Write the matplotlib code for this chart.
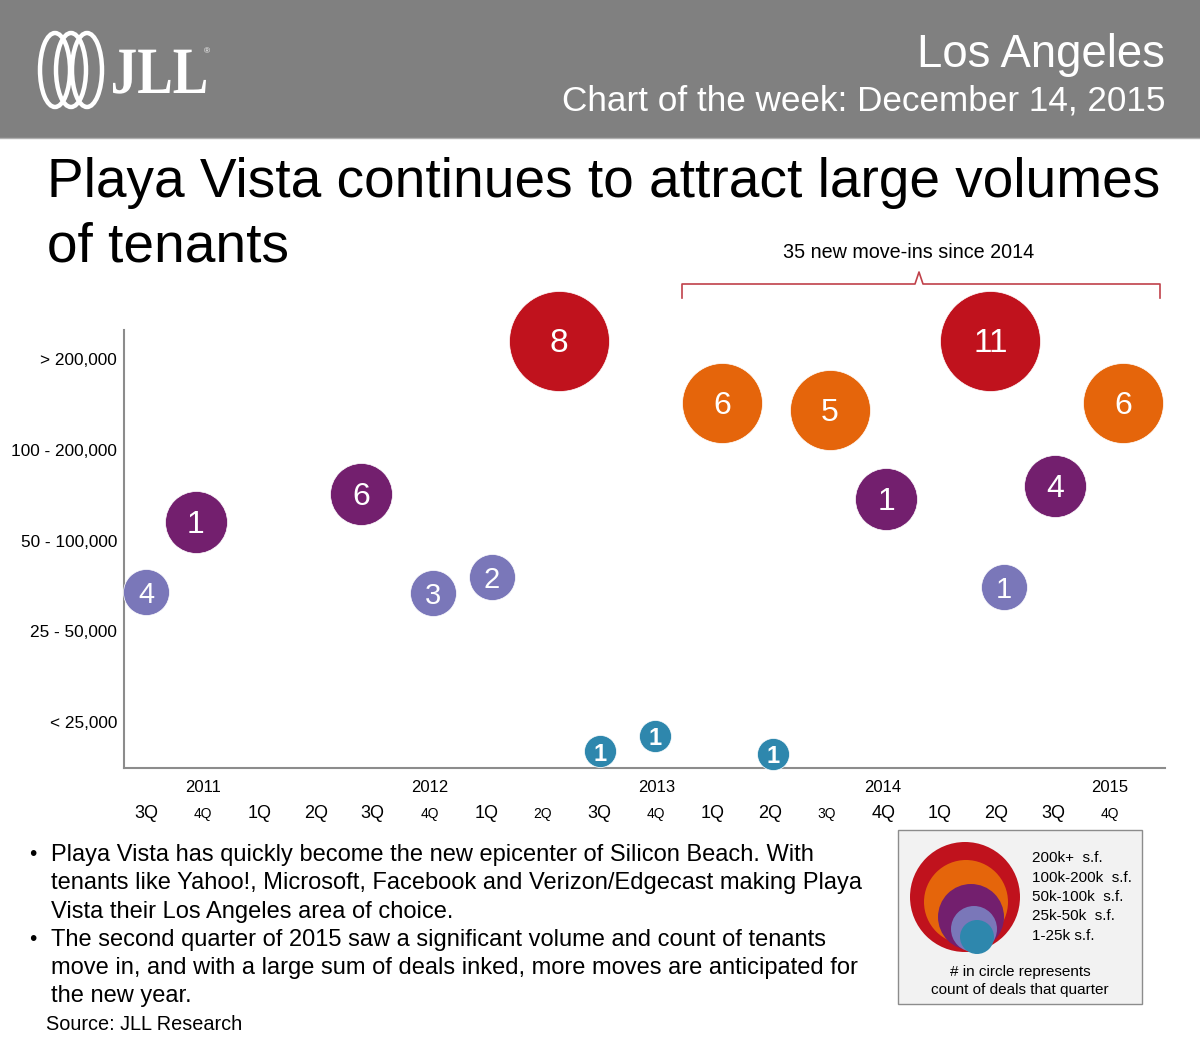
import matplotlib
matplotlib.use("Agg")
import matplotlib.pyplot as plt
import matplotlib.transforms as mtransforms
from matplotlib.patches import Rectangle, Ellipse, Circle, PathPatch
from matplotlib.textpath import TextPath
from matplotlib.font_manager import FontProperties
from matplotlib.transforms import Affine2D

plt.rcParams['font.family'] = ['Liberation Sans', 'DejaVu Sans']

# quarter axis: 3Q 2011 ... 4Q 2015
quarter_labels = ['3Q', '4Q', '1Q', '2Q', '3Q', '4Q', '1Q', '2Q', '3Q',
                  '4Q', '1Q', '2Q', '3Q', '4Q', '1Q', '2Q', '3Q', '4Q']
small_ticks = [1, 5, 7, 9, 12, 17]
year_labels = ['2011', '2012', '2013', '2014', '2015']
year_pos = [1, 5, 9, 13, 17]

size_cats = ['< 25,000', '25 - 50,000', '50 - 100,000', '100 - 200,000', '> 200,000']

# bubbles: x (quarter index), y (size band position), deal count, size class
bub_x = [0.0, 0.88, 3.8, 5.06, 6.1, 7.28, 8.0, 8.98, 10.16, 11.06, 12.06, 13.05, 14.89, 15.13, 16.03, 17.23]
bub_y = [1.43, 2.2, 2.51, 1.42, 1.6, 4.2, -0.32, -0.15, 3.52, -0.35, 3.44, 2.46, 4.2, 1.49, 2.6, 3.52]
bub_n = [4, 1, 6, 3, 2, 8, 1, 1, 6, 1, 5, 1, 11, 1, 4, 6]
bub_c = [1, 2, 2, 1, 1, 4, 0, 0, 3, 0, 3, 2, 4, 1, 2, 3]

colors = ['#2e87ad', '#7a77b9', '#731f6e', '#e5650b', '#c0121d']
radius = [16, 23, 31, 40, 50]          # px
num_size = [17, 21, 23, 23, 24]

W, H = 1200, 1049
fig = plt.figure(figsize=(12, 10.49), dpi=100)

# background/overlay axes in pixel coords
bg = fig.add_axes([0, 0, 1, 1])
bg.set_xlim(0, W)
bg.set_ylim(H, 0)
bg.axis('off')

bg.add_patch(Rectangle((0, 0), W, 138, color='#808080', lw=0))
bg.plot([0, W], [138, 138], color='#b0b0b0', lw=1)

# JLL logo
for cx in [55, 71, 87]:
    bg.add_patch(Ellipse((cx, 70), 30, 74, fill=False, ec='white', lw=3.2))
tp = TextPath((0, 0), 'JLL', size=50, prop=FontProperties(family='Liberation Serif', weight='bold'))
ext = tp.get_extents()
sx = 93 / ext.width
sy = 44 / ext.height
bg.add_patch(PathPatch(Affine2D().scale(sx, -sy).translate(113 - ext.x0 * sx, 93).transform_path(tp),
                       fc='white', ec='none'))
bg.text(207, 52, '®', color='white', fontsize=6, ha='center', va='center')

bg.text(1165, 55, 'Los Angeles', color='white', fontsize=32.8, ha='right', va='center')
bg.text(1165, 101, 'Chart of the week: December 14, 2015', color='white', fontsize=25.3,
        ha='right', va='center')

bg.text(47, 197, 'Playa Vista continues to attract large volumes', fontsize=39.6,
        ha='left', va='baseline', color='black')
bg.text(47, 262, 'of tenants', fontsize=39.6, ha='left', va='baseline', color='black')

# bracket
bc = '#c0414a'
bg.plot([682, 682, 915, 919, 923, 1160, 1160], [298, 284, 284, 272, 284, 284, 298],
        color=bc, lw=1.2, solid_joinstyle='round')
bg.text(909, 252, '35 new move-ins since 2014', fontsize=14.2, ha='center', va='center')

# bullets
bullets = [
    ['Playa Vista has quickly become the new epicenter of Silicon Beach. With',
     'tenants like Yahoo!, Microsoft, Facebook and Verizon/Edgecast making Playa',
     'Vista their Los Angeles area of choice.'],
    ['The second quarter of 2015 saw a significant volume and count of tenants',
     'move in, and with a large sum of deals inked, more moves are anticipated for',
     'the new year.'],
]
y0 = 855
for block in bullets:
    bg.text(33, y0, '•', fontsize=15, ha='center', va='center')
    for line in block:
        bg.text(51, y0, line, fontsize=17, ha='left', va='center')
        y0 += 28.3
bg.text(46, 1025, 'Source: JLL Research', fontsize=14.3, ha='left', va='center')

# legend box
bg.add_patch(Rectangle((898, 830), 244, 174, fc='#f2f2f2', ec='#8c8c8c', lw=1))
leg_circ = [(965, 897, 55), (966, 902, 42), (971, 917, 33), (974, 929, 23), (977, 937, 17)]
for (cx, cy, r), col in zip(leg_circ, colors[::-1]):
    bg.add_patch(Circle((cx, cy), r, color=col, lw=0))
leg_text = ['200k+  s.f.', '100k-200k  s.f.', '50k-100k  s.f.', '25k-50k  s.f.', '1-25k s.f.']
for i, t in enumerate(leg_text):
    bg.text(1032, 858 + i * 19.5, t, fontsize=11, ha='left', va='center')
bg.text(1020, 972, '# in circle represents', fontsize=11, ha='center', va='center')
bg.text(1020, 990, 'count of deals that quarter', fontsize=11, ha='center', va='center')

# main chart
L, R, T, B = 124, 1165, 330, 768
ax = fig.add_axes([L / W, 1 - B / H, (R - L) / W, (B - T) / H])
ax.patch.set_alpha(0)
ax.set_xlim(-0.388, 17.97)
ax.set_ylim(-0.507, 4.32)
for s in ['top', 'right']:
    ax.spines[s].set_visible(False)
for s in ['left', 'bottom']:
    ax.spines[s].set_color('#8c8c8c')
    ax.spines[s].set_linewidth(1.5)

ax.set_yticks(range(5), size_cats, fontsize=12.4)
ax.set_xticks(range(len(quarter_labels)), quarter_labels)
ax.tick_params(length=0)
ax.tick_params(axis='y', pad=5)
ax.tick_params(axis='x', pad=33)
for i, lab in enumerate(ax.get_xticklabels()):
    lab.set_fontsize(10 if i in small_ticks else 13)
    lab.set_va('center')

trans = mtransforms.blended_transform_factory(ax.transData, ax.transAxes)
for yl, xp in zip(year_labels, year_pos):
    ax.text(xp, -0.045, yl, transform=trans, fontsize=12, ha='center', va='center')

num_trans = mtransforms.offset_copy(ax.transData, fig=fig, y=-3, units='dots')
for x, y, n, c in zip(bub_x, bub_y, bub_n, bub_c):
    d = 2 * radius[c] * 0.72
    ax.scatter([x], [y], s=d ** 2, color=colors[c], edgecolors='white', linewidths=0.5,
               zorder=3, clip_on=False)
    ax.text(x, y, str(n), color='white', fontsize=num_size[c], ha='center', va='center',
            transform=num_trans, zorder=4, fontweight='bold' if c == 0 else 'normal')

fig.savefig('out.png', dpi=100)
